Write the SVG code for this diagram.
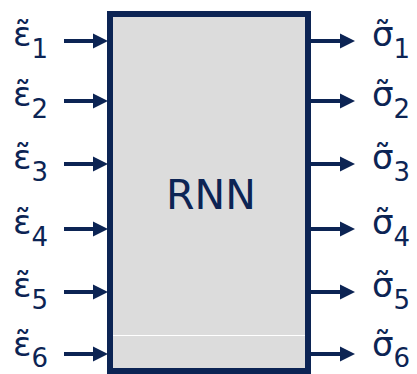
<svg xmlns="http://www.w3.org/2000/svg" width="417" height="374" viewBox="0 0 417 374">
<style>
.lbl{font-family:"DejaVu Sans","Liberation Sans",sans-serif;font-size:34px;fill:#0c2454}
.sub{font-size:26px}
.ln{stroke:#0c2454;stroke-width:4;fill:none}
.hd{fill:#0c2454}
</style>
<defs>
<g id="arrow"><line class="ln" x1="0" y1="0" x2="32" y2="0"/><polygon class="hd" points="29,-7.5 44,0 29,7.5"/></g>
</defs>
<g id="rnn">
<rect x="110" y="14" width="198" height="357" fill="#dcdcdc" stroke="#0c2454" stroke-width="6"/>
<line x1="113" y1="335.5" x2="305" y2="335.5" stroke="#ffffff" stroke-width="1.2"/>
<text class="lbl" x="211" y="209" text-anchor="middle" style="font-size:41px">RNN</text>
</g>
<g id="connectors">
<use href="#arrow" x="64" y="41"/>
<use href="#arrow" x="64" y="101"/>
<use href="#arrow" x="64" y="164"/>
<use href="#arrow" x="64" y="229"/>
<use href="#arrow" x="64" y="292"/>
<use href="#arrow" x="64" y="354"/>
<use href="#arrow" x="311" y="41"/>
<use href="#arrow" x="311" y="101"/>
<use href="#arrow" x="311" y="164"/>
<use href="#arrow" x="311" y="229"/>
<use href="#arrow" x="311" y="292"/>
<use href="#arrow" x="311" y="354"/>
</g>
<g id="in1"><text class="lbl" x="13" y="46">ε̃<tspan class="sub" dy="12">1</tspan></text></g>
<g id="in2"><text class="lbl" x="13" y="106">ε̃<tspan class="sub" dy="12">2</tspan></text></g>
<g id="in3"><text class="lbl" x="13" y="169">ε̃<tspan class="sub" dy="12">3</tspan></text></g>
<g id="in4"><text class="lbl" x="13" y="234">ε̃<tspan class="sub" dy="12">4</tspan></text></g>
<g id="in5"><text class="lbl" x="13" y="297">ε̃<tspan class="sub" dy="12">5</tspan></text></g>
<g id="in6"><text class="lbl" x="13" y="356">ε̃<tspan class="sub" dy="11">6</tspan></text></g>
<g id="out1"><text class="lbl" x="372" y="46">σ̃<tspan class="sub" dy="12">1</tspan></text></g>
<g id="out2"><text class="lbl" x="372" y="106">σ̃<tspan class="sub" dy="12">2</tspan></text></g>
<g id="out3"><text class="lbl" x="372" y="169">σ̃<tspan class="sub" dy="12">3</tspan></text></g>
<g id="out4"><text class="lbl" x="372" y="234">σ̃<tspan class="sub" dy="12">4</tspan></text></g>
<g id="out5"><text class="lbl" x="372" y="297">σ̃<tspan class="sub" dy="12">5</tspan></text></g>
<g id="out6"><text class="lbl" x="372" y="356">σ̃<tspan class="sub" dy="11">6</tspan></text></g>
</svg>
